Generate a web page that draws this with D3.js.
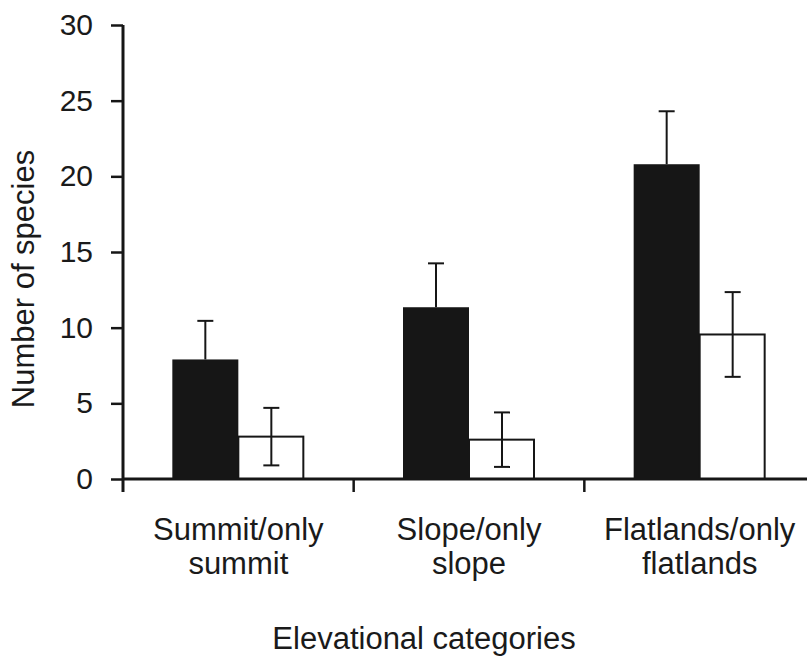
<!DOCTYPE html>
<html>
<head>
<meta charset="utf-8">
<script src="https://cdn.jsdelivr.net/npm/d3@7"></script>
<style>
  html, body { margin: 0; padding: 0; background: #fff; }
  svg text { font-family: "Liberation Sans", Arial, sans-serif; fill: #1a1a1a; }
</style>
</head>
<body>
<svg id="chart" width="807" height="660"></svg>
<script>
// Species counts per elevational category (mean ± error)
const categories = [["Summit/only", "summit"], ["Slope/only", "slope"], ["Flatlands/only", "flatlands"]];
const allSpecies = [7.9, 11.35, 20.8];      // filled bars
const allErr = [2.55, 2.9, 3.5];
const onlySpecies = [2.8, 2.6, 9.55];       // open bars
const onlyErr = [1.9, 1.8, 2.8];
const yTicks = [0, 5, 10, 15, 20, 25, 30];
const yLabel = "Number of species";
const xLabel = "Elevational categories";

const svg = d3.select("#chart");
const x0 = 123, x1 = 815, yBase = 479, yTop = 25;

const x = d3.scaleBand().domain(d3.range(categories.length)).range([x0, x1]).paddingInner(0).paddingOuter(0);
const y = d3.scaleLinear().domain([0, 30]).range([yBase, yTop]);
const barW = 66;
const ink = "#161616";

// bars
categories.forEach((c, i) => {
  const cx = x(i) + x.bandwidth() / 2;
  // filled bar with upper error bar
  svg.append("rect")
    .attr("x", cx - barW).attr("y", y(allSpecies[i]))
    .attr("width", barW).attr("height", y(0) - y(allSpecies[i]))
    .attr("fill", ink);
  const bx = cx - barW / 2;
  svg.append("line").attr("x1", bx).attr("x2", bx)
    .attr("y1", y(allSpecies[i])).attr("y2", y(allSpecies[i] + allErr[i]))
    .attr("stroke", ink).attr("stroke-width", 2);
  svg.append("line").attr("x1", bx - 8).attr("x2", bx + 8)
    .attr("y1", y(allSpecies[i] + allErr[i])).attr("y2", y(allSpecies[i] + allErr[i]))
    .attr("stroke", ink).attr("stroke-width", 2);

  // open bar with full error bar
  svg.append("rect")
    .attr("x", cx).attr("y", y(onlySpecies[i]))
    .attr("width", barW - 1).attr("height", y(0) - y(onlySpecies[i]))
    .attr("fill", "#fff").attr("stroke", ink).attr("stroke-width", 2);
  const wx = cx + barW / 2;
  const lo = onlySpecies[i] - onlyErr[i], hi = onlySpecies[i] + onlyErr[i];
  svg.append("line").attr("x1", wx).attr("x2", wx)
    .attr("y1", y(lo)).attr("y2", y(hi))
    .attr("stroke", ink).attr("stroke-width", 2);
  [lo, hi].forEach(v => {
    svg.append("line").attr("x1", wx - 8).attr("x2", wx + 8)
      .attr("y1", y(v)).attr("y2", y(v))
      .attr("stroke", ink).attr("stroke-width", 2);
  });
});

// y axis
const yAxis = d3.axisLeft(y).tickValues(yTicks).tickSize(12).tickPadding(18).tickSizeOuter(0);
const gy = svg.append("g").attr("transform", `translate(${x0},0)`).call(yAxis);
gy.select(".domain").remove();
gy.append("line").attr("x1", 0).attr("x2", 0).attr("y1", yTop).attr("y2", yBase + 13)
  .attr("stroke", ink).attr("stroke-width", 3);
gy.selectAll(".tick line").attr("stroke", ink).attr("stroke-width", 2.5);
gy.selectAll(".tick text").attr("font-size", 30).attr("fill", "#1a1a1a")
  .style("font-family", "'Liberation Sans', Arial, sans-serif");

// x axis baseline and category ticks
svg.append("line").attr("x1", x0).attr("x2", 807).attr("y1", yBase).attr("y2", yBase)
  .attr("stroke", ink).attr("stroke-width", 3);
d3.range(1, categories.length).forEach(i => {
  svg.append("line").attr("x1", x(i)).attr("x2", x(i)).attr("y1", yBase).attr("y2", yBase + 13)
    .attr("stroke", ink).attr("stroke-width", 2.5);
});

// category labels
categories.forEach((c, i) => {
  const t = svg.append("text").attr("text-anchor", "middle").attr("font-size", 31);
  c.forEach((line, k) => {
    t.append("tspan").attr("x", x(i) + x.bandwidth() / 2).attr("y", 540 + k * 34).text(line);
  });
});

// axis titles
svg.append("text").attr("x", 424).attr("y", 649).attr("text-anchor", "middle")
  .attr("font-size", 31).text(xLabel);
svg.append("text").attr("transform", "translate(34,279) rotate(-90)")
  .attr("text-anchor", "middle").attr("font-size", 31).text(yLabel);
</script>
</body>
</html>
